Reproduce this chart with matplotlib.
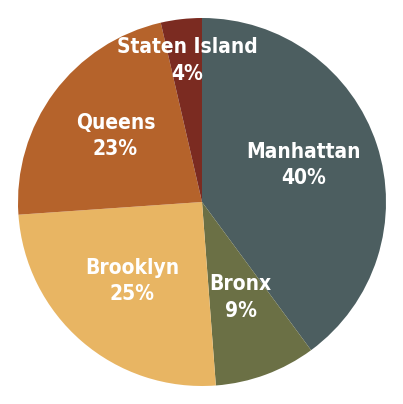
import matplotlib.pyplot as plt

boroughs = ['Manhattan', 'Bronx', 'Brooklyn', 'Queens', 'Staten Island']
# slice sizes, labels as printed
shares = [39.9, 8.9, 25.1, 22.5, 3.6]
pct_labels = ['40%', '9%', '25%', '23%', '4%']
colors = ['#4c5e60', '#6b7045', '#e8b563', '#b5632b', '#7b2b21']

# label spots in pie units (picked by eye from the reference)
label_xy = [(0.55, 0.20), (0.21, -0.52), (-0.38, -0.43), (-0.47, 0.36), (-0.08, 0.77)]

fig = plt.figure(figsize=(4.03, 4.04), dpi=100)
ax = fig.add_axes([18 / 403, 18 / 404, 368 / 403, 368 / 404])
ax.pie(shares, colors=colors, startangle=90, counterclock=False,
       wedgeprops={'linewidth': 0})
for name, pct, (x, y) in zip(boroughs, pct_labels, label_xy):
    ax.text(x, y, f'{name}\n{pct}', ha='center', va='center', color='white',
            fontsize=15, fontweight='bold', family='DejaVu Sans',
            fontstretch='condensed', linespacing=1.4)
ax.set_xlim(-1, 1)
ax.set_ylim(-1, 1)
ax.set_aspect('equal')
ax.axis('off')
fig.savefig('out.png', dpi=100)
